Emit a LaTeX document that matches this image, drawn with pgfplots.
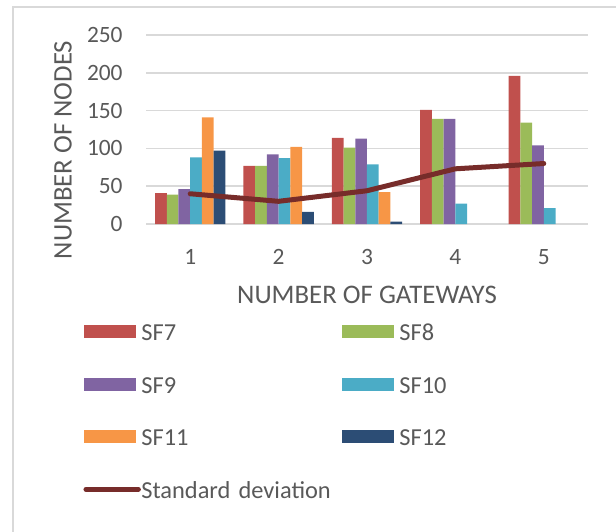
\documentclass[border=0pt]{standalone}
\usepackage{fontspec}
\setmainfont{Carlito}
\usepackage{pgfplots}
\usepackage{pgfplotstable}
\pgfplotsset{compat=1.18}

\definecolor{sfseven}{HTML}{C0504D}
\definecolor{sfeight}{HTML}{9BBB59}
\definecolor{sfnine}{HTML}{8064A2}
\definecolor{sften}{HTML}{4BACC6}
\definecolor{sfeleven}{HTML}{F79646}
\definecolor{sftwelve}{HTML}{2C4D75}
\definecolor{sdline}{HTML}{772C2A}
\definecolor{gridgray}{HTML}{D9D9D9}
\definecolor{textgray}{HTML}{595959}

\newcommand{\titlefont}{\fontsize{13.4}{16}\selectfont}
\newcommand{\legendfont}{\fontsize{12.2}{14.6}\selectfont}
\newcommand{\tickfont}{\fontsize{11.7}{14}\selectfont}

% nodes per spreading factor for each number of gateways
\pgfplotstableread{
gw  sf7  sf8  sf9  sf10  sf11  sf12  sd
1   41   39   46   88    141   97    40
2   77   77   92   87    102   16    30
3   114  101  113  79    42    3     44
4   151  139  139  27    0     0     73
5   196  134  104  21    0     0     80
}\nodedata

\pgfplotsset{
  sfbar/.style={ybar, bar width=5.86pt, bar shift=#1, draw=none,
    unbounded coords=discard, y filter/.expression={y<=0 ? nan : y},
    legend image code/.code={\fill[##1] (0pt,-3.25pt) rectangle (26pt,3.25pt);}},
  sdstyle/.style={sharp plot, sdline, line width=2.5pt, line cap=round,
    line join=round, mark=none,
    legend image code/.code={%
      \path[draw=none, fill=none] (0pt,-3.25pt) rectangle (26pt,3.25pt);
      \draw[##1, overlay] (0.8pt,0pt) -- (27pt,0pt);}},
}

\begin{document}
\begin{tikzpicture}[font=\titlefont, text=textgray]
\useasboundingbox (0,0) rectangle (308pt,265.5pt);
\clip (0,0) rectangle (308pt,265.5pt);
\draw[gridgray, line width=0.75pt] (6.5pt,-10pt) rectangle (340pt,262pt);
\begin{axis}[
  at={(73pt,153.5pt)}, anchor=south west,
  scale only axis, width=221pt, height=94.5pt,
  xmin=0.5, xmax=5.5, ymin=0, ymax=250,
  xtick={1,2,3,4,5}, ytick={0,50,100,150,200,250},
  axis x line*=bottom, axis y line*=left,
  x axis line style={draw=gridgray, line width=0.8pt, -},
  y axis line style={draw=none},
  major tick length=0pt,
  ymajorgrids, grid style={gridgray, line width=0.8pt},
  /pgf/number format/assume math mode=true,
  tick label style={font=\tickfont, text=textgray, inner sep=0pt},
  xticklabel style={anchor=center, yshift=-16.5pt},
  yticklabel style={anchor=east, xshift=-11.5pt},
  legend columns=2,
  legend style={at={(axis description cs:-0.1403,-0.522)}, anchor=north west,
    draw=none, fill=none, inner xsep=0pt, inner ysep=0pt,
    row sep=17.5pt,
    nodes={inner sep=0pt, text height=8.75pt, text depth=0pt, text width=100.5pt,
      align=left, font=\legendfont, text=textgray},
    /tikz/every odd column/.style={column sep=2.5pt},
    /tikz/every even column/.style={column sep=0pt}},
]
\addplot[sfbar=-14.65pt, fill=sfseven]  table[x=gw, y=sf7]  {\nodedata};
\addlegendentry{SF7}
\addplot[sfbar=-8.79pt,  fill=sfeight]  table[x=gw, y=sf8]  {\nodedata};
\addlegendentry{SF8}
\addplot[sfbar=-2.93pt,  fill=sfnine]   table[x=gw, y=sf9]  {\nodedata};
\addlegendentry{SF9}
\addplot[sfbar=2.93pt,   fill=sften]    table[x=gw, y=sf10] {\nodedata};
\addlegendentry{SF10}
\addplot[sfbar=8.79pt,   fill=sfeleven] table[x=gw, y=sf11] {\nodedata};
\addlegendentry{SF11}
\addplot[sfbar=14.65pt,  fill=sftwelve] table[x=gw, y=sf12] {\nodedata};
\addlegendentry{SF12}
\addplot[sdstyle] table[x=gw, y=sd] {\nodedata};
\addlegendentry{Standard deviation}
\end{axis}
\node[rotate=90] at (31.5pt,190.5pt) {NUMBER OF NODES};
\node at (183.5pt,118pt) {NUMBER OF GATEWAYS};
\end{tikzpicture}
\end{document}
